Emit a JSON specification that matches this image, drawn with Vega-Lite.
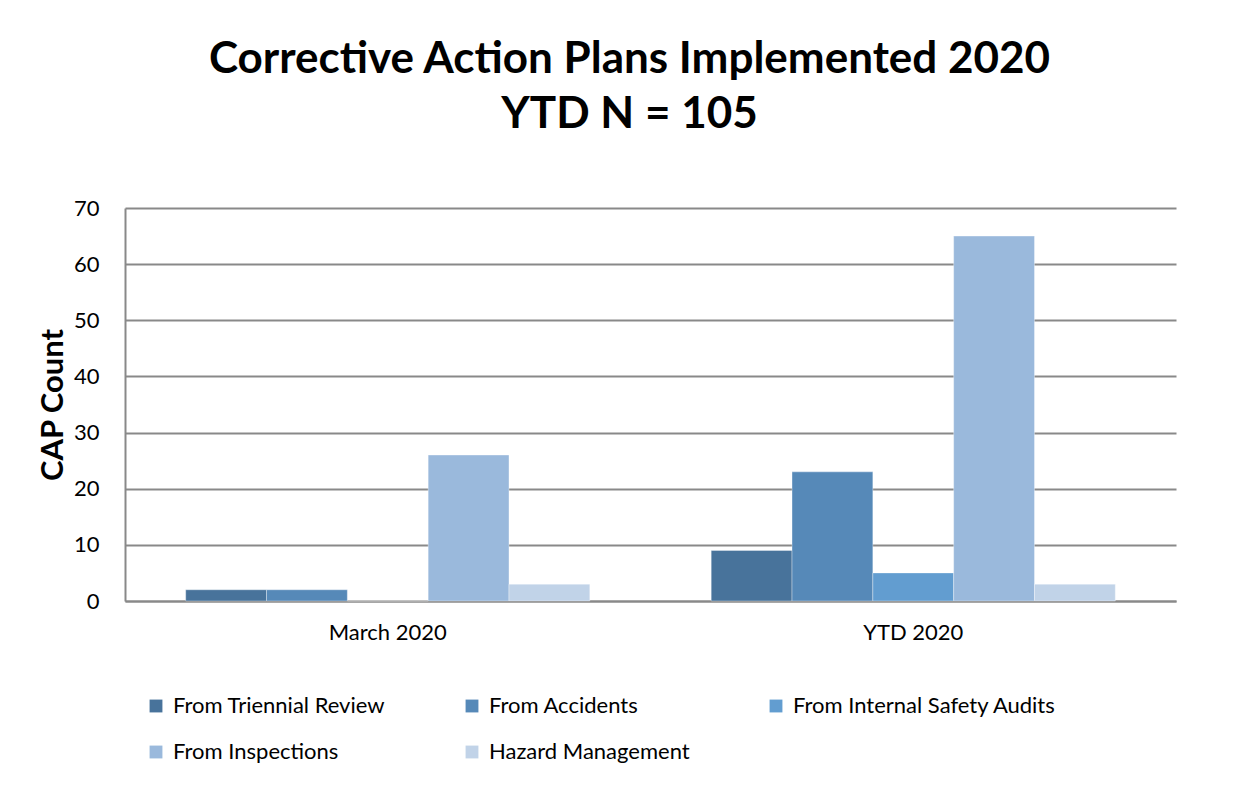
{
  "$schema": "https://vega.github.io/schema/vega-lite/v6.json",
  "autosize": "none",
  "width": 1051,
  "height": 393,
  "padding": {"left": 125, "top": 208, "right": 77, "bottom": 188},
  "background": "white",
  "title": {
    "text": ["Corrective Action Plans Implemented 2020", "YTD N = 105"],
    "font": "Lato",
    "fontSize": 44,
    "fontWeight": "bold",
    "color": "#000000",
    "anchor": "middle",
    "dx": -21,
    "lineHeight": 55,
    "offset": 60
  },
  "data": {
    "values": [
      {"period": "March 2020", "source": "From Triennial Review", "count": 2},
      {"period": "March 2020", "source": "From Accidents", "count": 2},
      {"period": "March 2020", "source": "From Internal Safety Audits", "count": 0},
      {"period": "March 2020", "source": "From Inspections", "count": 26},
      {"period": "March 2020", "source": "Hazard Management", "count": 3},
      {"period": "YTD 2020", "source": "From Triennial Review", "count": 9},
      {"period": "YTD 2020", "source": "From Accidents", "count": 23},
      {"period": "YTD 2020", "source": "From Internal Safety Audits", "count": 5},
      {"period": "YTD 2020", "source": "From Inspections", "count": 65},
      {"period": "YTD 2020", "source": "Hazard Management", "count": 3}
    ]
  },
  "mark": {"type": "bar", "stroke": "#ffffff", "strokeOpacity": 0.35, "strokeWidth": 1},
  "encoding": {
    "x": {
      "field": "period",
      "type": "nominal",
      "sort": ["March 2020", "YTD 2020"],
      "scale": {"paddingInner": 0.231, "paddingOuter": 0.1155},
      "axis": {
        "title": null,
        "labelAngle": 0,
        "labelFont": "Lato",
        "labelFontSize": 22,
        "labelColor": "#000000",
        "labelPadding": 21,
        "ticks": false,
        "domainColor": "#898989",
        "domainWidth": 2
      }
    },
    "xOffset": {
      "field": "source",
      "type": "nominal",
      "sort": ["From Triennial Review", "From Accidents", "From Internal Safety Audits", "From Inspections", "Hazard Management"],
      "scale": {"paddingInner": 0, "paddingOuter": 0}
    },
    "y": {
      "field": "count",
      "type": "quantitative",
      "scale": {"domain": [0, 70]},
      "axis": {
        "title": "CAP Count",
        "titleFont": "Lato",
        "titleFontSize": 31,
        "titleFontWeight": "bold",
        "titleColor": "#000000",
        "titlePadding": 4,
        "values": [0, 10, 20, 30, 40, 50, 60, 70],
        "labelFont": "Lato",
        "labelFontSize": 22,
        "labelColor": "#000000",
        "labelPadding": 26,
        "ticks": false,
        "domainColor": "#898989",
        "domainWidth": 2,
        "grid": true,
        "gridColor": "#898989",
        "gridWidth": 2
      }
    },
    "color": {
      "field": "source",
      "type": "nominal",
      "sort": ["From Triennial Review", "From Accidents", "From Internal Safety Audits", "From Inspections", "Hazard Management"],
      "scale": {
        "domain": ["From Triennial Review", "From Accidents", "From Internal Safety Audits", "From Inspections", "Hazard Management"],
        "range": ["#48739b", "#5689b8", "#629dd0", "#9ab9dc", "#c1d3e8"]
      },
      "legend": {
        "title": null,
        "orient": "none",
        "direction": "horizontal",
        "legendX": 20,
        "legendY": 487,
        "columns": 3,
        "gridAlign": "each",
        "columnPadding": 75,
        "rowPadding": 24,
        "symbolType": "square",
        "symbolSize": 165,
        "symbolStrokeWidth": 0,
        "labelOffset": 6,
        "labelFont": "Lato",
        "labelFontSize": 22,
        "labelColor": "#000000",
        "labelLimit": 400
      }
    }
  },
  "config": {
    "view": {"stroke": null}
  }
}
